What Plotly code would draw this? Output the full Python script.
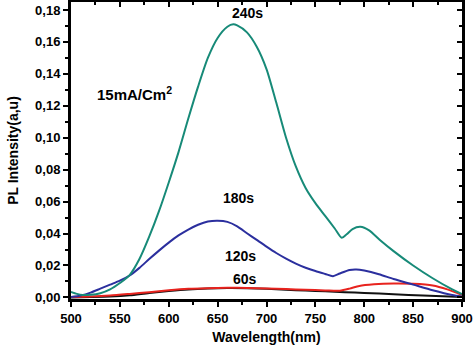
import plotly.graph_objects as go

# ---- data ----
wl_240 = [500, 506, 512, 520, 530, 540, 550, 560, 570, 580, 590, 600, 610, 620, 630, 640, 650, 660, 666,
          670, 680, 690, 700, 710, 720, 730, 740, 750, 760, 770, 777, 782, 788, 796, 805, 816, 830, 850,
          870, 890, 900]
pl_240 = [0.0035, 0.0022, 0.0015, 0.0016, 0.0026, 0.0050, 0.0090, 0.0140, 0.0240, 0.0380, 0.0540, 0.0720,
          0.0910, 0.1120, 0.1320, 0.1500, 0.1625, 0.1695, 0.1710, 0.1703, 0.1660, 0.1570, 0.1430, 0.1220,
          0.1000, 0.0820, 0.0685, 0.0590, 0.0510, 0.0430, 0.0373, 0.0395, 0.0428, 0.0442, 0.0420, 0.0360,
          0.0290, 0.0200, 0.0120, 0.0050, 0.0020]

wl_180 = [500, 510, 520, 530, 540, 550, 560, 570, 580, 590, 600, 610, 620, 630, 640, 650, 660, 670, 680,
          690, 700, 710, 720, 730, 740, 750, 760, 768, 775, 785, 792, 800, 815, 830, 850, 870, 890, 900]
pl_180 = [0.0002, 0.0012, 0.0030, 0.0055, 0.0080, 0.0105, 0.0137, 0.0185, 0.0240, 0.0293, 0.0343, 0.0388,
          0.0425, 0.0455, 0.0475, 0.0480, 0.0473, 0.0445, 0.0402, 0.0360, 0.0318, 0.0278, 0.0243, 0.0212,
          0.0186, 0.0165, 0.0147, 0.0133, 0.0150, 0.0172, 0.0175, 0.0168, 0.0145, 0.0115, 0.0080, 0.0045,
          0.0015, 0.0005]

wl_120 = [500, 520, 540, 560, 580, 600, 620, 640, 660, 680, 700, 720, 740, 760, 775, 785, 795, 810, 830,
          850, 870, 885, 900]
pl_120 = [0.0003, 0.0006, 0.0012, 0.0022, 0.0033, 0.0045, 0.0054, 0.0058, 0.0060, 0.0059, 0.0056, 0.0052,
          0.0048, 0.0044, 0.0042, 0.0055, 0.0072, 0.0082, 0.0087, 0.0085, 0.0075, 0.0050, 0.0015]

wl_60 = [500, 520, 540, 560, 580, 600, 620, 640, 660, 680, 700, 720, 740, 760, 780, 800, 830, 860, 900]
pl_60 = [0.0000, 0.0002, 0.0005, 0.0013, 0.0028, 0.0040, 0.0050, 0.0056, 0.0059, 0.0058, 0.0054, 0.0048,
         0.0043, 0.0038, 0.0033, 0.0028, 0.0020, 0.0012, 0.0003]

x_ticks = [500, 550, 600, 650, 700, 750, 800, 850, 900]
x_ticktext = ["500", "550", "600", "650", "700", "750", "800", "850", "900"]
y_ticks = [0.00, 0.02, 0.04, 0.06, 0.08, 0.10, 0.12, 0.14, 0.16, 0.18]
y_ticktext = ["0,00", "0,02", "0,04", "0,06", "0,08", "0,10", "0,12", "0,14", "0,16", "0,18"]

labels = ["240s", "180s", "120s", "60s"]
label_x = [681, 671, 673, 678]
label_y = [0.178, 0.062, 0.026, 0.0117]

# ---- figure ----
FONT = "Liberation Sans"
fig = go.Figure()
series = [(wl_60, pl_60, "#111111"), (wl_120, pl_120, "#e8231e"),
          (wl_180, pl_180, "#2b2f9e"), (wl_240, pl_240, "#178a78")]
for xs, ys, col in series:
    fig.add_trace(go.Scatter(x=xs, y=ys, mode="lines",
                             line=dict(color=col, width=2, shape="spline", smoothing=0.7),
                             showlegend=False, hoverinfo="skip"))
# invisible trace so the top/right frame axes get drawn
fig.add_trace(go.Scatter(x=wl_240, y=pl_240, xaxis="x2", yaxis="y2", mode="lines",
                         line=dict(width=0), opacity=0, showlegend=False, hoverinfo="skip"))

for t, lx, ly in zip(labels, label_x, label_y):
    fig.add_annotation(x=lx, y=ly, text=t, showarrow=False,
                       font=dict(family=FONT, size=14, color="black", weight="bold"))
fig.add_annotation(x=565, y=0.128, text="15mA/Cm<sup>2</sup>", showarrow=False,
                   font=dict(family=FONT, size=15, color="black", weight="bold"))

XR = [500, 900]
YR = [-0.001, 0.185]
axis_common = dict(showgrid=False, zeroline=False, showline=True, linecolor="black", linewidth=3,
                   tickcolor="black", tickwidth=2, ticklen=5)
fig.update_layout(
    width=474, height=350,
    margin=dict(l=71, r=12, t=2, b=51),
    plot_bgcolor="white", paper_bgcolor="white",
    xaxis=dict(range=XR, tickvals=x_ticks, ticktext=x_ticktext, ticks="outside",
               minor=dict(dtick=25, tick0=500, ticks="outside", ticklen=3, tickwidth=1.5, tickcolor="black"),
               tickfont=dict(family=FONT, size=13, color="black", weight="bold"),
               title=dict(text="Wavelength(nm)", standoff=8,
                          font=dict(family=FONT, size=14, color="black", weight="bold")),
               **axis_common),
    yaxis=dict(range=YR, tickvals=y_ticks, ticktext=y_ticktext, ticks="outside",
               minor=dict(dtick=0.01, tick0=0, ticks="outside", ticklen=3, tickwidth=1.5, tickcolor="black"),
               tickfont=dict(family=FONT, size=13, color="black", weight="bold"),
               title=dict(text="PL Intensity(a,u)", standoff=14,
                          font=dict(family=FONT, size=14, color="black", weight="bold")),
               **axis_common),
    xaxis2=dict(range=XR, overlaying="x", side="top", anchor="y2", tickvals=x_ticks, ticks="inside",
                showticklabels=False,
                minor=dict(dtick=25, tick0=500, ticks="inside", ticklen=3, tickwidth=1.5, tickcolor="black"),
                **axis_common),
    yaxis2=dict(range=YR, overlaying="y", side="right", anchor="x2", tickvals=y_ticks, ticks="inside",
                showticklabels=False,
                minor=dict(dtick=0.01, tick0=0, ticks="inside", ticklen=3, tickwidth=1.5, tickcolor="black"),
                **axis_common),
)
fig.write_html("out.html")
